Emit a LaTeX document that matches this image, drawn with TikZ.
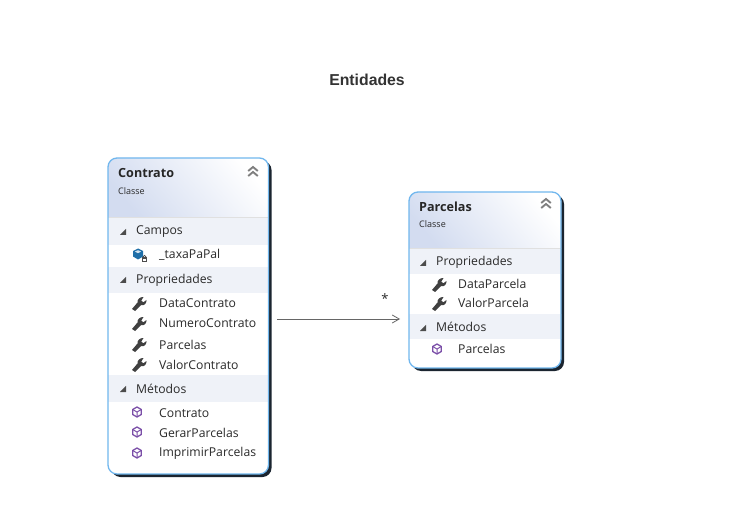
\documentclass[tikz,border=0pt]{standalone}
\usepackage{fontspec}
\setmainfont{Open Sans}
\newfontfamily\titlefont{Liberation Sans}
\usetikzlibrary{arrows.meta}
\definecolor{edgeblue}{HTML}{71B7EE}
\definecolor{bandcol}{HTML}{EFF2F8}
\definecolor{headblue}{HTML}{D3DCF0}
\definecolor{shadowcol}{HTML}{1B2530}
\definecolor{txt}{HTML}{2A2A2A}
\definecolor{methodcol}{HTML}{7B4FA8}
\definecolor{fieldcol}{HTML}{1F6FA8}
\tikzset{
  x=1pt,y=-1pt,
  boxshape/.style={rounded corners=9pt,inner sep=0pt,outer sep=0pt,anchor=north west},
  classframe/.style={boxshape,draw=edgeblue,line width=1.3pt},
  classshadow/.style={boxshape,fill=shadowcol},
  band/.style={fill=bandcol,draw=none},
  headshade/.style={top color=white,bottom color=headblue,shading angle=-50},
  row/.style={anchor=west,inner sep=0pt,font=\fontsize{12.2}{14}\selectfont,text=txt},
  classname/.style={anchor=west,inner sep=0pt,font=\fontsize{12.6}{14}\selectfont\bfseries,text=black!85},
  kind/.style={anchor=west,inner sep=0pt,font=\fontsize{9}{10}\selectfont,text=txt},
  assoc/.style={draw=black!60,line width=0.8pt,-{Straight Barb[length=7pt,width=8pt,line width=0.8pt]}},
  pics/wrench/.style={code={
    \fill[black!75] (-7,6) -- (-4,8) -- (2,2.2) .. controls (5,3) and (7.8,0.5) .. (7.5,-3)
      -- (4.5,-0.8) -- (2.2,-2.2) -- (4.5,-6) .. controls (0.8,-6.2) and (-2,-3.5) .. (-1.5,-0.5) -- cycle;
  }},
  pics/method/.style={code={
    \draw[methodcol,line width=1.3pt,line join=round] (0,-5) -- (4.3,-2.5) -- (4.3,2.5) -- (0,5) -- (-4.3,2.5) -- (-4.3,-2.5) -- cycle;
    \draw[methodcol,line width=1pt] (-4.3,-2.5) -- (0,0) -- (4.3,-2.5) (0,0) -- (0,5);
  }},
  pics/field/.style={code={
    \fill[fieldcol] (0,-5.5) -- (5,-3) -- (5,2.5) -- (0,5.5) -- (-5,2.5) -- (-5,-3) -- cycle;
    \fill[white!80!fieldcol] (0,-3.8) -- (3.2,-2.4) -- (0,-0.8) -- (-3.2,-2.4) -- cycle;
    \fill[black!70] (4,3) rectangle (9,8);
    \fill[white] (5.2,5) rectangle (7.8,6.8);
    \draw[black!70,line width=0.8pt] (5,3) .. controls (5,0.8) and (8,0.8) .. (8,3);
  }},
  pics/collapse/.style={code={
    \fill[black!70] (3,-3.2) -- (3,3) -- (-3,3) -- cycle;
  }},
  pics/chevrons/.style={code={
    \draw[black!50,line width=1.9pt] (-4.8,0) -- (0,-4) -- (4.8,0);
    \draw[black!50,line width=1.9pt] (-4.8,5) -- (0,1) -- (4.8,5);
  }},
}
\begin{document}
\begin{tikzpicture}
\useasboundingbox (0,0) rectangle (730,526);
\fill[white] (0,0) rectangle (730,526);
\node[font=\titlefont\fontsize{15.8}{18}\selectfont\bfseries,text=black!80,inner sep=0pt] (title) at (367,80) {Entidades};

% --- Contrato
\node[classshadow,minimum width=160pt,minimum height=316pt] (contratoshadow) at (111.5,161) {};
\begin{scope}
  \clip[rounded corners=9pt] (108,158) rectangle (268.5,474);
  \fill[white] (108,158) rectangle (269,474);
  \shade[headshade] (108,158) rectangle (269,217);
  \fill[band] (108,217) rectangle (269,245);
  \fill[band] (108,267) rectangle (269,293);
  \fill[band] (108,375) rectangle (269,402);
  \draw[black!12] (108,217) -- (269,217);
\end{scope}
\node[classframe,minimum width=160.5pt,minimum height=316pt] (contrato) at (108,158) {};
\node[classname] (c1) at (118,173.5) {Contrato};
\node[kind] (c2) at (118,191) {Classe};
\pic at (253,171) {chevrons};
\pic at (123,232) {collapse};
\node[row] (c3) at (136,232) {Campos};
\pic at (138,254) {field};
\node[row] (c4) at (159,255) {\_taxaPaPal};
\pic at (123,280) {collapse};
\node[row] (c5) at (136,280) {Propriedades};
\pic at (139,303) {wrench};
\node[row] (c6) at (159,303.5) {DataContrato};
\pic at (139,323) {wrench};
\node[row] (c7) at (159,323.5) {NumeroContrato};
\pic at (139,344) {wrench};
\node[row] (c8) at (159,344.5) {Parcelas};
\pic at (139,364) {wrench};
\node[row] (c9) at (159,364.5) {ValorContrato};
\pic at (123,389) {collapse};
\node[row] (c10) at (136,389) {Métodos};
\pic at (137,412) {method};
\node[row] (c11) at (159,413) {Contrato};
\pic at (137,432) {method};
\node[row] (c12) at (159,433) {GerarParcelas};
\pic at (137,453) {method};
\node[row] (c13) at (159,453.5) {ImprimirParcelas};

% --- Parcelas
\node[classshadow,minimum width=152pt,minimum height=176pt] (parcelasshadow) at (412,195) {};
\begin{scope}
  \clip[rounded corners=9pt] (409,192) rectangle (561,368);
  \fill[white] (409,192) rectangle (562,368);
  \shade[headshade] (409,192) rectangle (562,248);
  \fill[band] (409,248) rectangle (562,274);
  \fill[band] (409,314) rectangle (562,339);
  \draw[black!12] (409,248) -- (562,248);
\end{scope}
\node[classframe,minimum width=152pt,minimum height=176pt] (parcelas) at (409,192) {};
\node[classname] (p1) at (419,207) {Parcelas};
\node[kind] (p2) at (419,224) {Classe};
\pic at (546,203) {chevrons};
\pic at (423,263) {collapse};
\node[row] (p3) at (436,262.5) {Propriedades};
\pic at (439,284) {wrench};
\node[row] (p4) at (458,284) {DataParcela};
\pic at (439,303) {wrench};
\node[row] (p5) at (458,303) {ValorParcela};
\pic at (423,328) {collapse};
\node[row] (p6) at (436,327) {Métodos};
\pic at (437,349) {method};
\node[row] (p7) at (458,349) {Parcelas};

% --- association
\coordinate (assocstart) at ([shift={(8.5,3)}]contrato.east);
\draw[assoc] (assocstart) -- (assocstart -| parcelas.west) [shorten >=9pt];
\node[inner sep=0pt,font=\fontsize{13}{14}\selectfont,text=txt] (mult) at (385,299) {*};
\end{tikzpicture}
\end{document}
